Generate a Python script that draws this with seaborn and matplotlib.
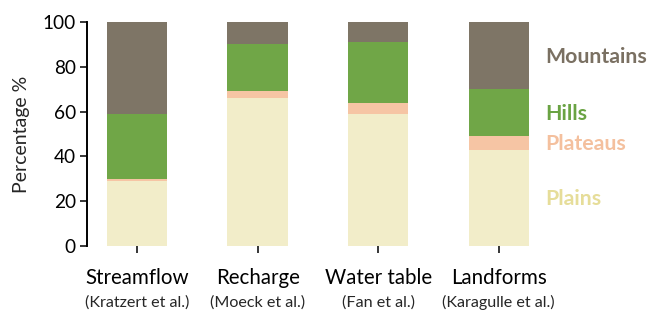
import matplotlib
matplotlib.use("Agg")
import matplotlib.pyplot as plt
import seaborn as sns
import numpy as np
import pandas as pd

sources = ["Streamflow", "Recharge", "Water table", "Landforms"]
refs = ["(Kratzert et al.)", "(Moeck et al.)", "(Fan et al.)", "(Karagulle et al.)"]
classes = ["Plains", "Plateaus", "Hills", "Mountains"]
plains = [29, 66, 59, 43]
plateaus = [1, 3, 5, 6]
hills = [29, 21, 27, 21]
mountains = [41, 10, 9, 30]
yticks = [0, 20, 40, 60, 80, 100]

bar_colors = {"Plains": "#f2edc9", "Plateaus": "#f6c5a4", "Hills": "#70a647", "Mountains": "#7e7566"}
text_colors = {"Plains": "#e6dd99", "Plateaus": "#f4c09e", "Hills": "#6aa343", "Mountains": "#7a7062"}
label_y = {"Mountains": 84.5, "Hills": 59, "Plateaus": 45.5, "Plains": 21}

sns.set_style("white")
plt.rcParams["font.family"] = ["Lato", "DejaVu Sans"]

df = pd.DataFrame({"source": sources, "Plains": plains, "Plateaus": plateaus,
                   "Hills": hills, "Mountains": mountains})
cum = df[classes].cumsum(axis=1)

fig = plt.figure(figsize=(6.49, 3.10), dpi=100)
ax = fig.add_axes([87/649, 64/310, 466/649, 224/310])

for cls in reversed(classes):
    sns.barplot(x=df["source"], y=cum[cls], color=bar_colors[cls], width=0.5,
                linewidth=0, edgecolor="none", saturation=1, ax=ax, order=sources)

ax.set_xlim(-0.415, 3.45)
ax.set_ylim(0, 100)
ax.set_yticks(yticks)
ax.set_yticklabels([str(v) for v in yticks], fontsize=13.7)
ax.set_ylabel("Percentage %", fontsize=14, labelpad=9)
ax.set_xlabel("")
ax.set_xticks(range(len(sources)))
ax.set_xticklabels(sources, fontsize=14.8)
ax.tick_params(axis="x", length=5, width=1.1, pad=11, colors="black", direction="out", bottom=True)
ax.tick_params(axis="y", length=5, width=1.1, pad=3, colors="black", direction="out", left=True)
for s in ["top", "right", "bottom"]:
    ax.spines[s].set_visible(False)
ax.spines["left"].set_linewidth(1.4)
ax.spines["left"].set_color("black")

for i, r in enumerate(refs):
    ax.annotate(r, xy=(i, 0), xycoords=("data", "axes fraction"), xytext=(0, -41),
                textcoords="offset points", ha="center", va="center", fontsize=11.6)

for cls in classes:
    ax.text(3.386, label_y[cls], cls, color=text_colors[cls], fontsize=15.3,
            fontweight="bold", ha="left", va="center", clip_on=False)

fig.savefig("out.png", dpi=100)
